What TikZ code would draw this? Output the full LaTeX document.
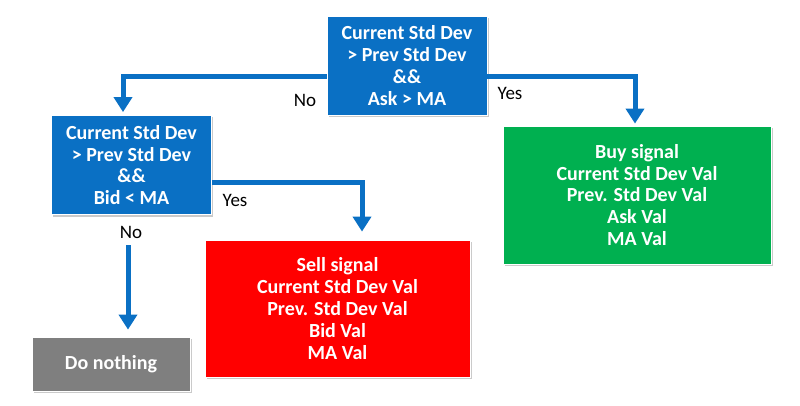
\documentclass[tikz,border=0pt]{standalone}
\usepackage{fontspec}
\setmainfont{Carlito}
\usetikzlibrary{arrows.meta,shadows}
\definecolor{boxblue}{HTML}{0A70C4}
\definecolor{boxgreen}{HTML}{00B050}
\definecolor{boxred}{HTML}{FF0000}
\definecolor{boxgray}{HTML}{7F7F7F}
\begin{document}
\begin{tikzpicture}[
	x=1pt, y=-1pt,
	box/.style={ draw=white, line width=0.8pt, text=white, font=\fontsize{20}{21.8}\selectfont\bfseries, align=center, inner sep=0pt, drop shadow={shadow xshift=1.5pt, shadow yshift=-2pt, opacity=0.35, fill=black!60} },
	decision/.style={ box, fill=boxblue, minimum width=160pt, minimum height=99pt },
	buysig/.style={ box, fill=boxgreen, minimum width=268pt, minimum height=138pt },
	sellsig/.style={ box, fill=boxred, minimum width=265pt, minimum height=137pt },
	idle/.style={ box, fill=boxgray, minimum width=158pt, minimum height=54pt },
	answer/.style={ font=\fontsize{19}{22}\selectfont, inner sep=1pt },
	flow/.style={ draw=boxblue, line width=5pt, -{Triangle[width=18pt,length=15pt]} }
]
\useasboundingbox (0,0) rectangle (800,406);

\node at (407,65.5) (ask) [decision] {Current Std Dev\\> Prev Std Dev\\\&\&\\Ask > MA};
\node at (131.5,165) (bid) [decision] {Current Std Dev\\> Prev Std Dev\\\&\&\\Bid < MA};
\node at (637,195) (buy) [buysig] {Buy signal\\Current Std Dev Val\\Prev. Std Dev Val\\Ask Val\\MA Val};
\node at (337.5,308.5) (sell) [sellsig] {Sell signal\\Current Std Dev Val\\Prev. Std Dev Val\\Bid Val\\MA Val};
\node at (111,364) (nothing) [idle] {Do nothing};

\node at (305,100) (no1) [answer] {No};
\node at (510,93) (yes1) [answer] {Yes};
\node at (235,200) (yes2) [answer] {Yes};
\node at (131,232) (no2) [answer] {No};

\draw[flow, shorten >=3pt] ([yshift=-11.5pt]ask.west) -| ([xshift=-8.5pt]bid.north);
\draw[flow, shorten >=2pt] ([yshift=-11.5pt]ask.east) -| ([xshift=-2pt]buy.north);
\draw[flow, shorten >=8pt] ([yshift=-18pt]bid.east) -| ([xshift=24.5pt]sell.north);
\draw[flow, shorten <=6pt, shorten >=7pt] ([xshift=-3pt]no2.south) -- ([xshift=-3pt]no2.south |- nothing.north);

\end{tikzpicture}
\end{document}
